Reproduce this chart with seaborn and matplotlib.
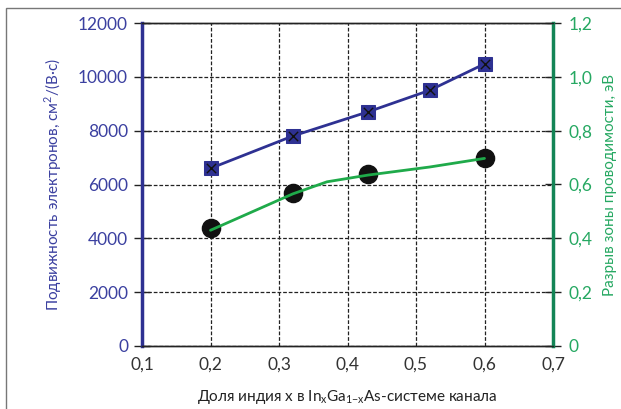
import numpy as np
import pandas as pd
import matplotlib
matplotlib.use("Agg")
import matplotlib.pyplot as plt
import seaborn as sns
from matplotlib.ticker import FuncFormatter, MultipleLocator
from matplotlib.patches import Rectangle

# ── Data ──────────────────────────────────────────────────────────────────────
x_pts      = [0.2, 0.32, 0.43, 0.52, 0.6]
mobility   = [6600, 7800, 8700, 9500, 10480]
x_gap      = [0.2, 0.32, 0.43, 0.6]
gap_pts    = [0.44, 0.57, 0.64, 0.70]
x_gap_fit  = [0.2, 0.32, 0.37, 0.43, 0.52, 0.6]
gap_fit    = [0.43, 0.565, 0.61, 0.635, 0.665, 0.697]

BLUE      = "#2e3192"
BLUE_TXT  = "#3b40a0"
GREEN_AX  = "#138556"
GREEN_LN  = "#1faa4a"
GREEN_TXT = "#26a862"

sns.set_style("white")
plt.rcParams["font.family"] = ["Lato", "DejaVu Sans"]

fig = plt.figure(figsize=(6.21, 4.09), dpi=100)
ax = fig.add_axes([142/621, 1 - 346/409, (553 - 142)/621, (346 - 23)/409])
ax2 = ax.twinx()

# outer frame (only top/left visible in reference)
fig.patches.append(Rectangle((6/621, -0.1), 1.2, 1 - 8/409 + 0.1,
                             transform=fig.transFigure, fill=False,
                             edgecolor="#777777", lw=1.0))

# ── Mobility (left axis) ─────────────────────────────────────────────────────
df_mob = pd.DataFrame({"x": x_pts, "y": mobility})
sns.lineplot(data=df_mob, x="x", y="y", ax=ax, color=BLUE, lw=2,
             marker="s", markersize=10.5, markeredgecolor=BLUE, zorder=4)
ax.scatter(x_pts, mobility, marker="x", s=45, color="#111111",
           linewidths=1.0, zorder=5)

# ── Band gap (right axis) ────────────────────────────────────────────────────
df_gap = pd.DataFrame({"x": x_gap, "y": gap_pts})
df_fit = pd.DataFrame({"x": x_gap_fit, "y": gap_fit})
sns.scatterplot(data=df_gap, x="x", y="y", ax=ax2, color="#111111",
                s=170, edgecolor="#111111", zorder=3)
sns.lineplot(data=df_fit, x="x", y="y", ax=ax2, color=GREEN_LN, lw=2.0,
             zorder=4)

# ── Axes styling ─────────────────────────────────────────────────────────────
ax.set_xlim(0.1, 0.7)
ax.set_ylim(0, 12000)
ax2.set_ylim(0, 1.2)
ax.xaxis.set_major_locator(MultipleLocator(0.1))
ax.yaxis.set_major_locator(MultipleLocator(2000))
ax2.yaxis.set_major_locator(MultipleLocator(0.2))

comma = lambda fmt: FuncFormatter(lambda v, p: (fmt % v).replace(".", ","))
ax.xaxis.set_major_formatter(comma("%.1f"))
ax.yaxis.set_major_formatter(FuncFormatter(lambda v, p: "%d" % v))
ax2.yaxis.set_major_formatter(FuncFormatter(
    lambda v, p: "0" if abs(v) < 1e-9 else ("%.1f" % v).replace(".", ",")))

ax.grid(True, ls=(0, (3, 1.5)), color="#222222", lw=0.9)
ax.set_axisbelow(True)

for a in (ax, ax2):
    for s in ("top", "bottom"):
        a.spines[s].set_color("#222222")
        a.spines[s].set_linewidth(1.0)
ax.spines["left"].set_color(BLUE)
ax.spines["left"].set_linewidth(2.5)
ax2.spines["left"].set_visible(False)
ax2.spines["right"].set_color(GREEN_AX)
ax2.spines["right"].set_linewidth(2.5)
ax.spines["right"].set_visible(False)

ax.tick_params(axis="x", direction="inout", length=10, width=1.0,
               colors="#222222", labelcolor="#333333", labelsize=12.5, pad=3)
ax.tick_params(axis="y", direction="inout", length=12, width=1.0,
               colors="#222222", labelcolor=BLUE_TXT, labelsize=12.5, pad=4)
ax2.tick_params(axis="y", direction="inout", length=12, width=1.0,
                colors="#222222", labelcolor=GREEN_TXT, labelsize=12.5, pad=5)

ax.set_xlabel("Доля индия x в In$_\\mathregular{x}$Ga$_\\mathregular{1{-}x}$As-системе канала",
              fontsize=11, color="#222222", labelpad=11)
ax.set_ylabel("Подвижность электронов, см$^\\mathregular{2}$/(В·с)",
              fontsize=11, color=BLUE_TXT, labelpad=10)
ax2.set_ylabel("Разрыв зоны проводимости, эВ", fontsize=11,
               color=GREEN_TXT, labelpad=8)

fig.savefig("out.png", dpi=100)
